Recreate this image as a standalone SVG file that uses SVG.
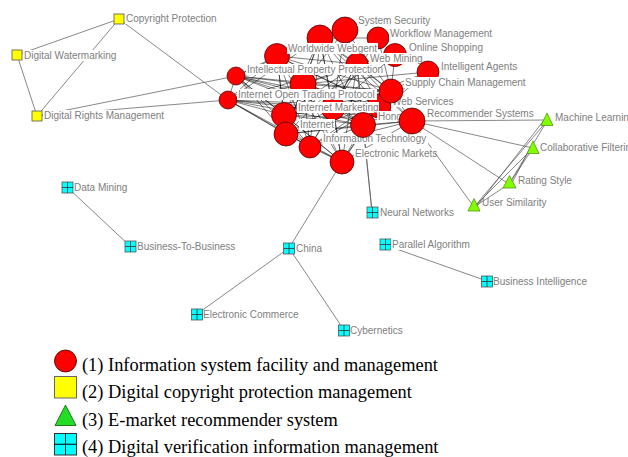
<svg xmlns="http://www.w3.org/2000/svg" xmlns:xlink="http://www.w3.org/1999/xlink" width="628" height="457" viewBox="0 0 628 457">
<style>
.e{stroke:#000;stroke-width:0.5;fill:none}
.p{stroke:#555;stroke-width:0.7;fill:none}
.rc{fill:#ff0000;stroke:#300;stroke-width:0.7}
.ys{fill:#ffff00;stroke:#555;stroke-width:0.8}
.gt{fill:#80ff00;stroke:#4a8a00;stroke-width:0.7}
.lb{fill:#fff}
.t{font-family:"Liberation Sans",Arial,sans-serif;font-size:10px;fill:#808080}
.lg{font-family:"Liberation Serif","Times New Roman",serif;font-size:18.4px;fill:#000}
</style>
<defs>
<g id="csq"><rect x="-5.5" y="-5.5" width="11" height="11" fill="#00ffff" stroke="#555" stroke-width="0.8"/><path d="M0,-5.5V5.5M-5.5,0H5.5" stroke="#333" stroke-width="0.8"/></g>
</defs>
<rect width="628" height="457" fill="#fff"/>
<g id="connectors">
<g class="e">
<line x1="277" y1="56" x2="320" y2="38"/><line x1="277" y1="56" x2="303" y2="84"/><line x1="277" y1="56" x2="357" y2="64"/><line x1="277" y1="56" x2="333" y2="108"/><line x1="277" y1="56" x2="284" y2="115"/><line x1="277" y1="56" x2="286" y2="134"/><line x1="277" y1="56" x2="310" y2="147"/><line x1="277" y1="56" x2="363" y2="125"/><line x1="277" y1="56" x2="391" y2="91"/><line x1="277" y1="56" x2="379" y2="106"/><line x1="277" y1="56" x2="236" y2="76"/><line x1="277" y1="56" x2="228" y2="100"/><line x1="277" y1="56" x2="342" y2="162"/><line x1="277" y1="56" x2="412" y2="121"/>
<line x1="320" y1="38" x2="303" y2="84"/><line x1="320" y1="38" x2="357" y2="64"/><line x1="320" y1="38" x2="333" y2="108"/><line x1="320" y1="38" x2="284" y2="115"/><line x1="320" y1="38" x2="286" y2="134"/><line x1="320" y1="38" x2="310" y2="147"/><line x1="320" y1="38" x2="363" y2="125"/><line x1="320" y1="38" x2="391" y2="91"/><line x1="320" y1="38" x2="379" y2="106"/><line x1="320" y1="38" x2="236" y2="76"/><line x1="320" y1="38" x2="228" y2="100"/><line x1="320" y1="38" x2="342" y2="162"/><line x1="320" y1="38" x2="412" y2="121"/>
<line x1="303" y1="84" x2="357" y2="64"/><line x1="303" y1="84" x2="333" y2="108"/><line x1="303" y1="84" x2="284" y2="115"/><line x1="303" y1="84" x2="286" y2="134"/><line x1="303" y1="84" x2="310" y2="147"/><line x1="303" y1="84" x2="363" y2="125"/><line x1="303" y1="84" x2="391" y2="91"/><line x1="303" y1="84" x2="379" y2="106"/><line x1="303" y1="84" x2="236" y2="76"/><line x1="303" y1="84" x2="228" y2="100"/><line x1="303" y1="84" x2="342" y2="162"/><line x1="303" y1="84" x2="412" y2="121"/>
<line x1="357" y1="64" x2="333" y2="108"/><line x1="357" y1="64" x2="284" y2="115"/><line x1="357" y1="64" x2="286" y2="134"/><line x1="357" y1="64" x2="310" y2="147"/><line x1="357" y1="64" x2="363" y2="125"/><line x1="357" y1="64" x2="391" y2="91"/><line x1="357" y1="64" x2="379" y2="106"/><line x1="357" y1="64" x2="236" y2="76"/><line x1="357" y1="64" x2="228" y2="100"/><line x1="357" y1="64" x2="342" y2="162"/><line x1="357" y1="64" x2="412" y2="121"/>
<line x1="333" y1="108" x2="284" y2="115"/><line x1="333" y1="108" x2="286" y2="134"/><line x1="333" y1="108" x2="310" y2="147"/><line x1="333" y1="108" x2="363" y2="125"/><line x1="333" y1="108" x2="391" y2="91"/><line x1="333" y1="108" x2="379" y2="106"/><line x1="333" y1="108" x2="236" y2="76"/><line x1="333" y1="108" x2="228" y2="100"/><line x1="333" y1="108" x2="342" y2="162"/><line x1="333" y1="108" x2="412" y2="121"/>
<line x1="284" y1="115" x2="286" y2="134"/><line x1="284" y1="115" x2="310" y2="147"/><line x1="284" y1="115" x2="363" y2="125"/><line x1="284" y1="115" x2="391" y2="91"/><line x1="284" y1="115" x2="379" y2="106"/><line x1="284" y1="115" x2="236" y2="76"/><line x1="284" y1="115" x2="228" y2="100"/><line x1="284" y1="115" x2="342" y2="162"/><line x1="284" y1="115" x2="412" y2="121"/>
<line x1="286" y1="134" x2="310" y2="147"/><line x1="286" y1="134" x2="363" y2="125"/><line x1="286" y1="134" x2="391" y2="91"/><line x1="286" y1="134" x2="379" y2="106"/><line x1="286" y1="134" x2="236" y2="76"/><line x1="286" y1="134" x2="228" y2="100"/><line x1="286" y1="134" x2="342" y2="162"/><line x1="286" y1="134" x2="412" y2="121"/>
<line x1="310" y1="147" x2="363" y2="125"/><line x1="310" y1="147" x2="391" y2="91"/><line x1="310" y1="147" x2="379" y2="106"/><line x1="310" y1="147" x2="236" y2="76"/><line x1="310" y1="147" x2="228" y2="100"/><line x1="310" y1="147" x2="342" y2="162"/><line x1="310" y1="147" x2="412" y2="121"/>
<line x1="363" y1="125" x2="391" y2="91"/><line x1="363" y1="125" x2="379" y2="106"/><line x1="363" y1="125" x2="236" y2="76"/><line x1="363" y1="125" x2="228" y2="100"/><line x1="363" y1="125" x2="342" y2="162"/><line x1="363" y1="125" x2="412" y2="121"/>
<line x1="391" y1="91" x2="379" y2="106"/><line x1="391" y1="91" x2="236" y2="76"/><line x1="391" y1="91" x2="228" y2="100"/><line x1="391" y1="91" x2="342" y2="162"/><line x1="391" y1="91" x2="412" y2="121"/>
<line x1="379" y1="106" x2="236" y2="76"/><line x1="379" y1="106" x2="228" y2="100"/><line x1="379" y1="106" x2="342" y2="162"/><line x1="379" y1="106" x2="412" y2="121"/>
<line x1="236" y1="76" x2="228" y2="100"/><line x1="236" y1="76" x2="342" y2="162"/><line x1="236" y1="76" x2="412" y2="121"/>
<line x1="228" y1="100" x2="342" y2="162"/><line x1="228" y1="100" x2="412" y2="121"/>
<line x1="342" y1="162" x2="412" y2="121"/>
<line x1="345" y1="30" x2="320" y2="38"/><line x1="345" y1="30" x2="277" y2="56"/><line x1="345" y1="30" x2="357" y2="64"/><line x1="345" y1="30" x2="303" y2="84"/><line x1="345" y1="30" x2="333" y2="108"/><line x1="345" y1="30" x2="391" y2="91"/>
<line x1="378" y1="38" x2="357" y2="64"/><line x1="378" y1="38" x2="320" y2="38"/><line x1="378" y1="38" x2="391" y2="91"/><line x1="378" y1="38" x2="333" y2="108"/>
<line x1="395" y1="55" x2="357" y2="64"/><line x1="395" y1="55" x2="391" y2="91"/><line x1="395" y1="55" x2="333" y2="108"/><line x1="395" y1="55" x2="303" y2="84"/><line x1="395" y1="55" x2="284" y2="115"/>
<line x1="428" y1="72" x2="391" y2="91"/><line x1="428" y1="72" x2="379" y2="106"/><line x1="428" y1="72" x2="363" y2="125"/><line x1="428" y1="72" x2="333" y2="108"/><line x1="428" y1="72" x2="303" y2="84"/>
</g>
<g class="p">
<line x1="119" y1="19" x2="17" y2="55"/><line x1="119" y1="19" x2="37" y2="116"/><line x1="119" y1="19" x2="228" y2="100"/>
<line x1="17" y1="55" x2="37" y2="116"/>
<line x1="37" y1="116" x2="236" y2="76"/><line x1="37" y1="116" x2="228" y2="100"/>
<line x1="412" y1="121" x2="547" y2="120"/><line x1="412" y1="121" x2="533" y2="148"/><line x1="412" y1="121" x2="509" y2="184"/><line x1="412" y1="121" x2="474" y2="207"/>
<line x1="547" y1="121" x2="474" y2="207"/><line x1="545" y1="119" x2="477" y2="206"/><line x1="547" y1="121" x2="509" y2="184"/>
<line x1="533" y1="148" x2="509" y2="184"/><line x1="531" y1="146" x2="512" y2="183"/><line x1="533" y1="148" x2="474" y2="207"/><line x1="509" y1="184" x2="474" y2="207"/>
<line x1="372" y1="212" x2="363" y2="125"/><line x1="372" y1="212" x2="357" y2="64"/>
<line x1="289" y1="248" x2="342" y2="162"/><line x1="289" y1="248" x2="197" y2="314"/><line x1="289" y1="248" x2="344" y2="330"/>
<line x1="67" y1="187" x2="130" y2="246"/>
<line x1="385" y1="245" x2="487" y2="281"/>
</g>
</g>
<g id="n-hidden1"><circle class="rc" cx="320" cy="38" r="13"/></g>
<g id="n-hidden2"><circle class="rc" cx="303" cy="84" r="13"/></g>
<g id="n-hidden3"><circle class="rc" cx="333" cy="108" r="12"/></g>
<g id="n-web-services"><circle class="rc" cx="379" cy="106" r="12"/><rect class="lb" x="391" y="96" width="60" height="11"/><text class="t" x="392" y="105">Web Services</text></g>
<g id="n-system-security"><circle class="rc" cx="345" cy="30" r="13"/><rect class="lb" x="357" y="15" width="74" height="11"/><text class="t" x="358" y="24">System Security</text></g>
<g id="n-workflow"><circle class="rc" cx="378" cy="38" r="11"/><rect class="lb" x="389" y="28" width="103" height="11"/><text class="t" x="390" y="37">Workflow Management</text></g>
<g id="n-online-shopping"><circle class="rc" cx="395" cy="55" r="11.5"/><rect class="lb" x="408" y="42" width="73" height="11"/><text class="t" x="409" y="51">Online Shopping</text></g>
<g id="n-web-mining"><circle class="rc" cx="357" cy="64" r="11"/><rect class="lb" x="369" y="53" width="54" height="11"/><text class="t" x="370" y="62">Web Mining</text></g>
<g id="n-worldwide"><circle class="rc" cx="277" cy="56" r="12.5"/><rect class="lb" x="287" y="43" width="91" height="11"/><text class="t" x="288" y="52">Worldwide Webgent</text></g>
<g id="n-intelligent-agents"><circle class="rc" cx="428" cy="72" r="11"/><rect class="lb" x="440" y="61" width="78" height="11"/><text class="t" x="441" y="70">Intelligent Agents</text></g>
<g id="n-supply-chain"><circle class="rc" cx="391" cy="91" r="12"/><rect class="lb" x="404" y="77" width="118" height="11"/><text class="t" x="405" y="86">Supply Chain Management</text></g>
<g id="n-ipp"><circle class="rc" cx="236" cy="76" r="9"/><rect class="lb" x="246" y="64" width="134" height="11"/><text class="t" x="247" y="73">Intellectual Property Protection</text></g>
<g id="n-iotp"><circle class="rc" cx="228" cy="100" r="9"/><rect class="lb" x="237" y="89" width="140" height="11"/><text class="t" x="238" y="98">Internet Open Trading Protocol</text></g>
<g id="n-internet-marketing"><circle class="rc" cx="284" cy="115" r="12.5"/><rect class="lb" x="297" y="102" width="82" height="11"/><text class="t" x="298" y="111">Internet Marketing</text></g>
<g id="n-internet"><circle class="rc" cx="286" cy="134" r="12"/><rect class="lb" x="299" y="119" width="36" height="11"/><text class="t" x="300" y="128">Internet</text></g>
<g id="n-information-technology"><circle class="rc" cx="310" cy="147" r="11"/><rect class="lb" x="322" y="133" width="106" height="11"/><text class="t" x="323" y="142">Information Technology</text></g>
<g id="n-hong"><circle class="rc" cx="363" cy="125" r="12.5"/><rect class="lb" x="377" y="111" width="24" height="11"/><text class="t" x="378" y="120">Hong</text></g>
<g id="n-recommender"><circle class="rc" cx="412" cy="121" r="13"/><rect class="lb" x="426" y="108" width="103" height="11"/><text class="t" x="427" y="117">Recommender Systems</text></g>
<g id="n-electronic-markets"><circle class="rc" cx="342" cy="162" r="12"/><rect class="lb" x="354" y="148" width="81" height="11"/><text class="t" x="355" y="157">Electronic Markets</text></g>
<g id="n-copyright"><rect class="ys" x="114" y="14" width="10" height="10"/><rect class="lb" x="125" y="13" width="90" height="11"/><text class="t" x="126" y="22">Copyright Protection</text></g>
<g id="n-watermarking"><rect class="ys" x="12" y="50" width="10" height="10"/><rect class="lb" x="23" y="50" width="93" height="11"/><text class="t" x="24" y="59">Digital Watermarking</text></g>
<g id="n-drm"><rect class="ys" x="32" y="111" width="10" height="10"/><rect class="lb" x="43" y="110" width="120" height="11"/><text class="t" x="44" y="119">Digital Rights Management</text></g>
<g id="n-machine-learning"><polygon class="gt" points="547,113 541,125.5 553,125.5"/><text class="t" x="555" y="121">Machine Learning</text></g>
<g id="n-collaborative"><polygon class="gt" points="533,141 527,153.5 539,153.5"/><text class="t" x="540" y="151">Collaborative Filtering</text></g>
<g id="n-rating-style"><polygon class="gt" points="509.5,175.5 503,188 516,188"/><text class="t" x="518" y="184">Rating Style</text></g>
<g id="n-user-similarity"><polygon class="gt" points="474,198.5 468,211 480,211"/><text class="t" x="482" y="206">User Similarity</text></g>
<g id="n-data-mining"><use xlink:href="#csq" x="67.5" y="187.5"/><text class="t" x="74" y="191">Data Mining</text></g>
<g id="n-b2b"><use xlink:href="#csq" x="130.5" y="246.5"/><text class="t" x="137" y="250">Business-To-Business</text></g>
<g id="n-china"><use xlink:href="#csq" x="289" y="248.5"/><text class="t" x="296" y="252">China</text></g>
<g id="n-ecommerce"><use xlink:href="#csq" x="197" y="314.5"/><text class="t" x="203" y="318">Electronic Commerce</text></g>
<g id="n-neural"><use xlink:href="#csq" x="372.5" y="212.5"/><text class="t" x="380" y="216">Neural Networks</text></g>
<g id="n-parallel"><use xlink:href="#csq" x="385.5" y="244.5"/><rect class="lb" x="391" y="239" width="89" height="11"/><text class="t" x="392" y="248">Parallel Algorithm</text></g>
<g id="n-bi"><use xlink:href="#csq" x="487" y="281.5"/><text class="t" x="493" y="285">Business Intelligence</text></g>
<g id="n-cybernetics"><use xlink:href="#csq" x="344" y="330.5"/><text class="t" x="350" y="334">Cybernetics</text></g>
<g id="legend">
<circle cx="65.5" cy="361" r="11" fill="#ff0000" stroke="#300" stroke-width="0.8"/>
<text class="lg" x="82" y="370.5">(1) Information system facility and management</text>
<rect x="54.5" y="376.5" width="22" height="21.5" fill="#ffff00" stroke="#666" stroke-width="1"/>
<text class="lg" x="82" y="398">(2) Digital copyright protection management</text>
<polygon points="65.5,405 55,425.5 76,425.5" fill="#22dd22" stroke="#0a5a0a" stroke-width="0.8"/>
<text class="lg" x="82" y="425.5">(3) E-market recommender system</text>
<rect x="54.5" y="433.5" width="22" height="21.5" fill="#00ffff" stroke="#333" stroke-width="1"/>
<path d="M65.5,433.5V455M54.5,444.25H76.5" stroke="#000" stroke-width="1"/>
<text class="lg" x="82" y="453">(4) Digital verification information management</text>
</g>
</svg>
